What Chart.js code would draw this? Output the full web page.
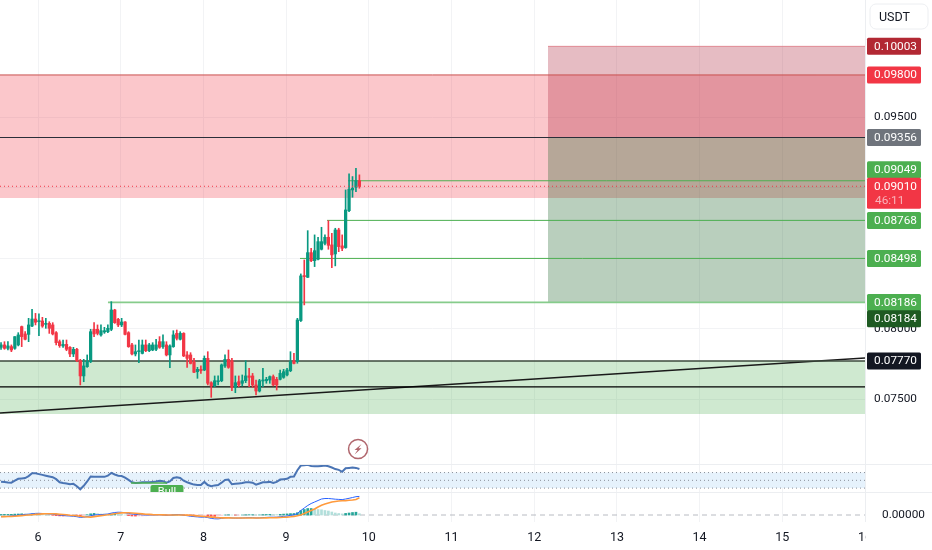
<!DOCTYPE html>
<html><head><meta charset="utf-8">
<script src="https://cdn.jsdelivr.net/npm/chart.js@4"></script>
<style>html,body{margin:0;padding:0;background:#fff}canvas{display:block}</style>
</head><body><canvas id="c" width="932" height="550"></canvas>
<script>
// prices in units of 0.00001
const opens=[7867,7884,7860,7872,7860,7884,8014,7962,7959,8018,
8068,8049,8054,8030,8037,8026,7971,7907,7877,7888,
7867,7820,7853,7772,7664,7730,7765,7995,7995,7955,
7976,7978,7995,8132,8066,8026,8047,7971,7884,7820,
7836,7824,7884,7843,7848,7853,7907,7872,7884,7813,
7872,7966,7924,7966,7813,7813,7765,7694,7711,7706,
7789,7616,7593,7623,7630,7735,7782,7772,7583,7623,
7612,7630,7664,7664,7600,7557,7628,7630,7635,7659,
7640,7640,7654,7671,7701,7770,7766,8057,8374,8364,
8539,8482,8492,8563,8605,8648,8594,8530,8700,8587,
8575,8837,8984,9003,9050];
const highs=[7900,7907,7907,7884,7943,7971,8018,7978,8073,8137,
8108,8104,8080,8073,8049,8042,7978,7919,7919,7919,
7872,7867,7860,7782,7782,7813,7995,8042,8026,8026,
8009,8026,8191,8137,8073,8073,8049,7978,7895,7884,
7919,7919,7919,7895,7900,7924,7943,7955,7907,7884,
7985,7990,7978,7971,7836,7829,7789,7725,7735,7806,
7836,7623,7664,7664,7749,7813,7848,7789,7664,7664,
7671,7772,7718,7682,7635,7640,7718,7654,7664,7671,
7654,7706,7711,7718,7836,7824,8073,8388,8487,8695,
8570,8665,8648,8719,8665,8766,8676,8712,8712,8665,
8984,9098,9079,9138,9091];
const lows=[7853,7853,7848,7836,7853,7877,7872,7919,7907,8014,
8026,7950,8009,8002,7966,7955,7884,7867,7867,7843,
7801,7801,7765,7600,7623,7725,7758,7943,7955,7947,
7966,7971,7985,8037,8014,8014,7955,7867,7813,7806,
7758,7820,7836,7836,7843,7843,7860,7860,7806,7723,
7867,7919,7919,7801,7725,7749,7687,7647,7682,7701,
7600,7512,7588,7600,7623,7725,7718,7559,7545,7588,
7593,7616,7588,7583,7529,7550,7588,7612,7612,7593,
7564,7635,7647,7664,7694,7749,7754,8050,8168,8362,
8475,8440,8487,8558,8594,8563,8433,8445,8546,8553,
8570,8830,8932,8972,8996];
const closes=[7884,7860,7877,7848,7943,7955,7943,7924,8026,8068,
8045,8054,8018,8037,8002,7962,7900,7879,7888,7853,
7820,7853,7772,7664,7735,7765,7978,7962,7966,7985,
7985,8002,8132,8042,8026,8047,7959,7872,7820,7836,
7841,7884,7843,7884,7884,7884,7867,7907,7813,7877,
7955,7931,7966,7806,7789,7753,7690,7711,7701,7789,
7612,7593,7630,7630,7742,7782,7725,7581,7616,7600,
7630,7664,7654,7600,7557,7630,7635,7640,7659,7600,
7600,7682,7694,7706,7765,7753,8061,8374,8369,8539,
8482,8553,8617,8617,8648,8591,8523,8700,8582,8570,
8842,8989,8996,9050,9010];
const rsi=[46.4,45.6,44.7,44,49,54,55,56,61,68,
68,66,64,62,60,58,53,45,43,42,
40,41,35,27,36,47,60,59,59,59,
59,62,69,65,62,61,57,51,45,43,
44,45,45,45,46,47,49,48,44,47,
56,58,56,49,45,42,39,38,38,46,
38,35,37,38,44,51,52,40,41,42,
43,45,45,44,39,42,45,45,46,43,
46,52,53,54,59,60,76,88,89,90,
87,86,86,87,88,86,83,79,77,72,
81,82,83,82,79];
const macdLine=[-1.7,-1.5,-1.3,-1,-.5,-.2,.2,.6,.8,1.2,
1.6,1.7,1.5,1.4,1.1,.8,.5,0,-.5,-.8,
-1,-1.3,-1.7,-2.4,-2.2,-1.6,-.7,0,.3,.4,
.7,1,1.9,2.5,2.8,2.7,2.2,1.6,1,.6,
.4,.1,0,0,0,.1,.1,0,-.2,-.2,
.1,.4,.3,-.2,-.7,-1.2,-1.6,-1.9,-2.2,-2.1,
-2.6,-3.4,-3.8,-3.9,-3.4,-2.9,-2.7,-3,-3.1,-3.1,
-3,-2.8,-2.7,-2.7,-3,-2.9,-2.6,-2.4,-2.2,-2.2,
-2.2,-1.8,-1.4,-1,-.4,.1,1.5,4.5,7,9.5,
11.5,13,14.5,16,16.5,16.5,16.2,15.8,15.6,15.4,
16,16.7,17.5,18.3,18.6];
const signalLine=[-1.7,-1.6,-1.5,-1.4,-1.2,-.9,-.6,-.3,0,.3,
.6,.9,1.1,1.3,1.3,1.3,1.1,.8,.5,.2,
-.2,-.5,-.8,-1.3,-1.7,-2,-2.1,-1.6,-1.1,-.6,
-.2,.2,.7,1.3,1.8,2.1,2.2,2.2,2,1.7,
1.4,1.1,.8,.6,.4,.3,.2,.1,0,0,
0,0,0,0,-.1,-.3,-.6,-.9,-1.2,-1.5,
-1.8,-2.1,-2.4,-2.7,-2.9,-2.9,-2.9,-3,-3,-3,
-3,-3,-3,-3,-3,-3,-3,-2.9,-2.8,-2.7,
-2.6,-2.5,-2.3,-2.1,-1.8,-1.4,-.8,.1,1.5,3,
4.5,6,8,9.8,11,12,13,13.5,14,14.2,
14.4,14.7,15,15.5,17.3];
const histogram=[.5,.6,.6,.7,.9,1,1.2,1.1,1,1.1,
1,.9,.6,.4,.1,-.3,-.6,-.9,-1,-1,
-.9,-.8,-.9,-1.1,-.6,.3,1.2,1.6,1.4,1,
.9,.8,1.2,1.2,1,.6,0,-.6,-1,-1.1,
-1,-1,-.8,-.6,-.4,-.2,-.1,-.1,-.2,-.2,
.1,.4,.3,-.2,-.6,-.9,-1,-1,-1,-.6,
-.8,-1.3,-1.4,-1.2,-.5,0,.2,0,-.1,-.1,
0,.2,.3,.3,0,.1,.4,.5,.6,.5,
.4,.7,.9,1.1,1.4,1.5,2.3,4.4,5.5,6.5,
6.5,6,5.5,5.2,4.5,4,3,2,1.5,1.1,
1.6,2,2.5,2.8,1.3];

const dayTicks=[6,7,8,9,10,11,12,13,14,15,16];
const priceTicks=[0.075,0.08,0.085,0.09,0.095];
const macdTicks=[0];
const firstCandleDay=5.553;
const viewStart=5.5405, viewEnd=16;
const times=opens.map((_,i)=>firstCandleDay+i/24);

const resistanceTop=0.098, resistanceBottom=0.08927;
const supportTop=0.0777, supportBottom=0.07394, supportMid=0.07586;
const entry=0.09356, stop=0.10003, target=0.08186;
const boxStart=12.167;
const tpLevels=[[0.09049,9.75],[0.08768,9.495],[0.08498,9.168]];
const tpLevelFar=[0.08186,6.846];
const lastPrice=0.0901;
const trend=[[viewStart,0.07401],[viewEnd,0.07791]];
const bullDiv=[[7.125,43],[7.56,43]];

// right-axis tags: [text, price, background, text shift]
const tags=[
 ["0.10003",0.10003,"#b22833",0],
 ["0.09800",0.098,"#f23645",0],
 ["0.09356",0.09356,"#6f747c",0],
 ["0.09049",0.09049,"#4caf50",-11],
 ["0.08768",0.08768,"#4caf50",0],
 ["0.08498",0.08498,"#4caf50",0],
 ["0.08186",0.08186,"#4caf50",0],
 ["0.08184",0.08184,"#1e5a22",16],
 ["0.07770",0.0777,"#131722",0]
];
const green="#089981", red="#f23645";
const font="Roboto, 'Liberation Sans', sans-serif";
const labelSize=11.8;

function hline(p,from,color,width,extra){
 return Object.assign({type:'line',yAxisID:'y',data:[{x:from,y:p},{x:viewEnd,y:p}],borderColor:color,borderWidth:width,pointRadius:0,order:5},extra||{});
}
function zone(top,bottom,from,color,ord){
 return {type:'line',yAxisID:'y',data:[{x:from,y:top},{x:viewEnd,y:top}],borderWidth:0,borderColor:'transparent',pointRadius:0,
  fill:{value:bottom},backgroundColor:color,order:ord};
}
const up=times.map((_,i)=>closes[i]>=opens[i]);
const datasets=[
 zone(resistanceTop,resistanceBottom,viewStart,'rgba(242,54,69,0.28)',12),
 zone(supportTop,supportBottom,viewStart,'rgba(76,175,80,0.27)',12),
 zone(stop,entry,boxStart,'rgba(174,39,61,0.31)',11),
 zone(entry,target,boxStart,'rgba(14,90,28,0.29)',11),
 hline(stop,boxStart,'rgba(220,120,130,0.8)',1),
 hline(resistanceTop,viewStart,'#c9504f',1),
 hline(entry,viewStart,'#2a2e39',1.2),
 hline(supportTop,viewStart,'#3d4a3d',1.5),
 hline(supportMid,viewStart,'#000000',1.2),
 {type:'line',yAxisID:'y',data:trend.map(t=>({x:t[0],y:t[1]})),borderColor:'#1a1a1a',borderWidth:1.6,pointRadius:0,order:5},
 ...tpLevels.map(l=>hline(l[0],l[1],'#4caf50',1,{order:3})),
 hline(tpLevelFar[0],tpLevelFar[1],'#86cc8b',1.6,{order:3}),
 hline(lastPrice,viewStart,'#f23645',1,{borderDash:[1,3],order:0}),
 {type:'bar',yAxisID:'y',grouped:false,barThickness:1,order:2,borderWidth:0,
  data:times.map((x,i)=>({x,y:[lows[i]/1e5,highs[i]/1e5]})),
  backgroundColor:up.map(u=>u?green:red)},
 {type:'bar',yAxisID:'y',grouped:false,barThickness:2.6,minBarLength:1,order:1,borderWidth:0,
  data:times.map((x,i)=>({x,y:[Math.min(opens[i],closes[i])/1e5,Math.max(opens[i],closes[i])/1e5]})),
  backgroundColor:up.map(u=>u?green:red)},
 {type:'line',yAxisID:'yRsi',data:[{x:viewStart,y:70},{x:viewEnd,y:70}],borderWidth:0,borderColor:'transparent',pointRadius:0,fill:{value:30},backgroundColor:'#e6f2fc',order:12},
 ...[70,50,30].map(v=>({type:'line',yAxisID:'yRsi',data:[{x:viewStart,y:v},{x:viewEnd,y:v}],borderColor:'#8a8f99',borderWidth:1,borderDash:[1,3],pointRadius:0,order:6})),
 {type:'line',yAxisID:'yRsi',data:times.map((x,i)=>({x,y:rsi[i]})),borderColor:'#4a74b4',borderWidth:2,pointRadius:0,tension:0,order:1},
 {type:'line',yAxisID:'yRsi',data:bullDiv.map(t=>({x:t[0],y:t[1]})),borderColor:'#4caf50',borderWidth:1.6,pointRadius:0,order:0},
 {type:'line',yAxisID:'yMacd',data:[{x:viewStart,y:0},{x:viewEnd,y:0}],borderColor:'#b8bbc2',borderWidth:1,borderDash:[5,4],pointRadius:0,order:6},
 {type:'bar',yAxisID:'yMacd',grouped:false,barThickness:2,order:3,borderWidth:0,
  data:times.map((x,i)=>({x,y:histogram[i]})),
  backgroundColor:histogram.map((v,i)=>{const rising=i==0||v>=histogram[i-1];return v>=0?(rising?'#26a69a':'#b2dfdb'):(rising?'#ffcdd2':'#ff5252');})},
 {type:'line',yAxisID:'yMacd',data:times.map((x,i)=>({x,y:macdLine[i]})),borderColor:'#2962ff',borderWidth:1,pointRadius:0,order:2},
 {type:'line',yAxisID:'yMacd',data:times.map((x,i)=>({x,y:signalLine[i]})),borderColor:'#ff9a3c',borderWidth:1.6,pointRadius:0,order:1},
];

const noPad=s=>{s.paddingTop=0;s.paddingBottom=0;s.paddingLeft=0;s.paddingRight=0;};

const overlay={id:'overlay',afterDraw(chart){
 const c=chart.ctx,{x,y,yRsi,yMacd}=chart.scales;
 const a=chart.chartArea;
 c.save();
 c.strokeStyle='#eceef1';c.lineWidth=1;
 c.beginPath();
 [yRsi.top,yMacd.top].forEach(t=>{c.moveTo(0,Math.round(t)+.5);c.lineTo(932,Math.round(t)+.5);});
 c.moveTo(a.right+.5,0);c.lineTo(a.right+.5,a.bottom);
 c.stroke();
 c.fillStyle='#fff';c.fillRect(a.right+1,a.bottom+1,70,30);
 c.save();
 c.beginPath();c.rect(0,yRsi.top,a.right,yRsi.bottom-yRsi.top);c.clip();
 const bx=x.getPixelForValue(7.36),by=yRsi.getPixelForValue(30);
 c.fillStyle='#4caf50';c.beginPath();c.roundRect(bx,by-3,33,14,2);c.fill();
 c.fillStyle='#fff';c.font='11px '+font;c.textAlign='center';c.textBaseline='middle';
 c.fillText('Bull',bx+16.5,by+4);
 c.restore();
 const ix=x.getPixelForValue(9.87),iy=yRsi.top-15;
 c.strokeStyle='#b0666d';c.lineWidth=1.5;c.beginPath();c.arc(ix,iy,9.5,0,Math.PI*2);c.stroke();
 c.fillStyle='#b0666d';c.beginPath();
 c.moveTo(ix+3.5,iy-5);c.lineTo(ix-3.5,iy+1);c.lineTo(ix-.5,iy+1);c.lineTo(ix-3.5,iy+5.5);c.lineTo(ix+3.5,iy-.8);c.lineTo(ix+.5,iy-.8);c.closePath();c.fill();
 c.font=labelSize+'px '+font;c.textAlign='center';c.textBaseline='middle';
 const tag=(txt,py,bg,h)=>{c.fillStyle=bg;c.beginPath();c.roundRect(867,py-8.5,54,h||17,1.5);c.fill();c.fillStyle='#fff';c.fillText(txt,895.5,py+.5);};
 tags.forEach(t=>tag(t[0],y.getPixelForValue(t[1])+t[3],t[2]));
 const lp=y.getPixelForValue(lastPrice);
 tag('0.09010',lp,'#f23645',31);
 c.fillStyle='#f9b3ba';c.textAlign='left';c.fillText('46:11',875,lp+14.5);
 c.strokeStyle='#eceef1';c.lineWidth=1;c.fillStyle='#fff';
 c.beginPath();c.roundRect(870,4,58,25,6);c.fill();c.stroke();
 c.font='12.5px '+font;c.fillStyle='#131722';c.fillText('USDT',879,17.5);
 c.restore();
}};

new Chart(document.getElementById('c'),{
 type:'bar',
 data:{datasets},
 plugins:[overlay],
 options:{
  responsive:false,animation:false,devicePixelRatio:1,
  layout:{padding:0},
  events:[],
  plugins:{legend:{display:false},tooltip:{enabled:false},title:{display:false}},
  scales:{
   x:{type:'linear',position:'bottom',offset:false,min:viewStart,max:viewEnd,
    grid:{color:'#f2f3f5',drawTicks:false,offset:false},border:{display:false},
    afterBuildTicks(s){s.ticks=dayTicks.map(v=>({value:v}));},
    afterFit(s){s.height=28;noPad(s);},
    ticks:{autoSkip:false,maxRotation:0,padding:8,color:'#131722',font:{family:font,size:12.5},callback:v=>String(v)}},
   y:{type:'linear',position:'right',stack:'panes',stackWeight:464,weight:0,min:0.07039,max:0.10332,
    grid:{color:'#f2f3f5',drawTicks:false},border:{display:false},
    afterBuildTicks(s){s.ticks=priceTicks.map(v=>({value:v}));},
    afterFit(s){s.width=67;noPad(s);},
    ticks:{padding:9,color:'#131722',font:{family:font,size:labelSize},callback:v=>v.toFixed(5)}},
   yRsi:{type:'linear',position:'right',stack:'panes',stackWeight:28,weight:1,min:20,max:92,
    grid:{display:false},border:{display:false},
    afterBuildTicks(s){s.ticks=[];},afterFit(s){s.width=67;noPad(s);},ticks:{display:false}},
   yMacd:{type:'linear',position:'right',stack:'panes',stackWeight:30,weight:2,min:-7,max:23,
    grid:{display:false},border:{display:false},
    afterBuildTicks(s){s.ticks=macdTicks.map(v=>({value:v}));},afterFit(s){s.width=67;noPad(s);},
    ticks:{padding:9,color:'#131722',font:{family:font,size:labelSize},callback:v=>v.toFixed(5)}}
  }
 }
});
</script></body></html>
